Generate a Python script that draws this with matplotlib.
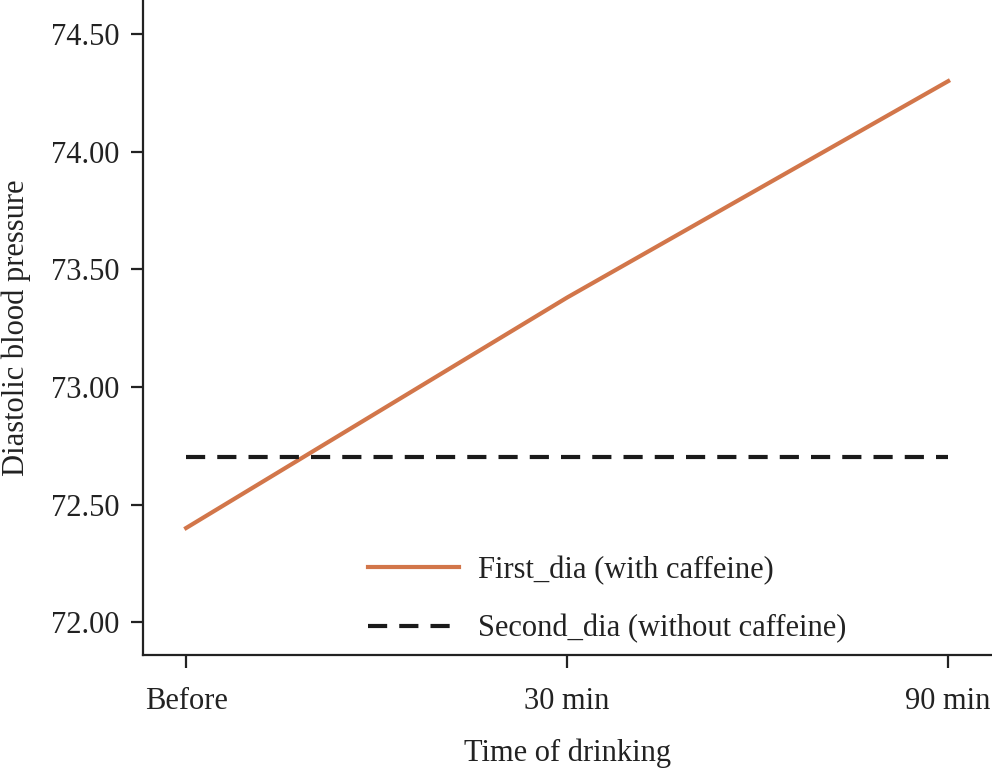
import matplotlib
matplotlib.use("Agg")
import matplotlib.pyplot as plt

times = ["Before", "30 min", "90 min"]
first_dia = [72.40, 73.38, 74.30]
second_dia = [72.70, 72.70, 72.70]
series_labels = ["First_dia (with caffeine)", "Second_dia (without caffeine)"]
yticks = [72.00, 72.50, 73.00, 73.50, 74.00, 74.50]

plt.rcParams['font.family'] = ['Liberation Serif', 'DejaVu Serif']
fs = 22

fig = plt.figure(figsize=(9.92, 7.68), dpi=100)
ax = fig.add_axes([0.1442, 0.1471, 0.8558, 0.8529])

x = list(range(len(times)))
ax.plot(x, first_dia, color="#d2764a", lw=3.0, label=series_labels[0])
ax.plot(x, second_dia, color="#1a1a1a", lw=3.0, linestyle=(0, (4.6, 2.9)), label=series_labels[1])

ax.set_xlim(-0.113, 2.115)
ax.set_ylim(71.86, 74.645)
ax.set_xticks(x)
ax.set_xticklabels(times)
ax.set_yticks(yticks)
ax.set_yticklabels([f"{v:.2f}" for v in yticks])

for s in ["top", "right"]:
    ax.spines[s].set_visible(False)
for s in ["left", "bottom"]:
    ax.spines[s].set_linewidth(1.6)
    ax.spines[s].set_color("#222222")
ax.tick_params(axis="both", length=9, width=1.6, color="#222222", labelsize=fs,
               labelcolor="#222222")
ax.tick_params(axis="x", pad=14)
ax.tick_params(axis="y", pad=8)

ax.set_xlabel("Time of drinking", fontsize=fs, color="#222222", labelpad=16)
ax.set_ylabel("Diastolic blood pressure", fontsize=fs, color="#222222", labelpad=14)

leg = ax.legend(loc="lower left", bbox_to_anchor=(0.232, -0.024), frameon=False, fontsize=fs,
                handlelength=3.0, handletextpad=0.6, labelspacing=0.95)
for t in leg.get_texts():
    t.set_color("#222222")

fig.savefig("out.png", dpi=100)
